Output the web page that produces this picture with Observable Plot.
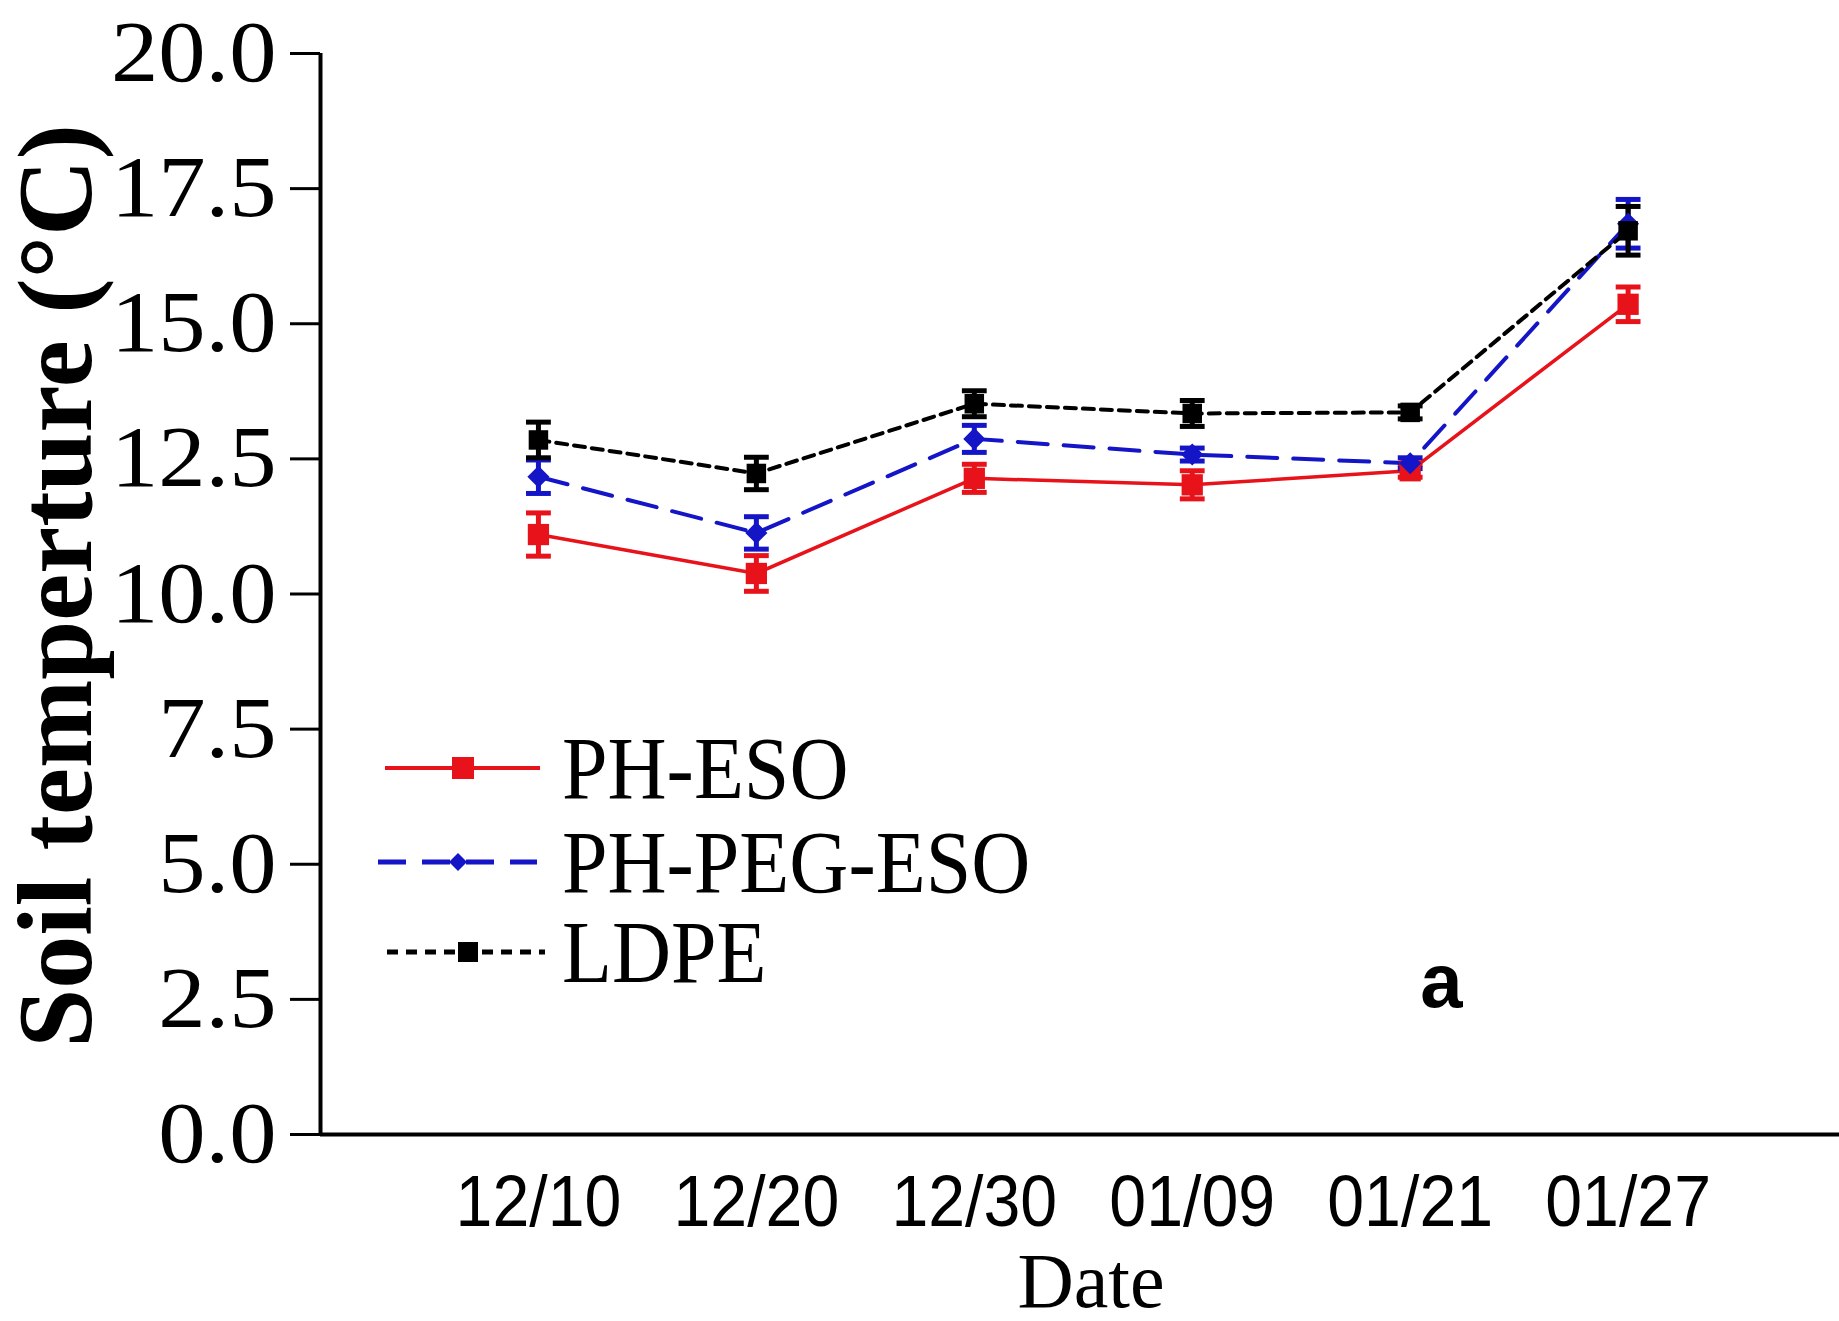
<!DOCTYPE html>
<html>
<head>
<meta charset="utf-8">
<script src="https://cdn.jsdelivr.net/npm/d3@7"></script>
<script src="https://cdn.jsdelivr.net/npm/@observablehq/plot@0.6"></script>
<style>
  html, body { margin: 0; padding: 0; background: #fff; }
  #wrap { position: relative; width: 1839px; height: 1321px; }
  #legend { position: absolute; left: 0; top: 0; }
</style>
</head>
<body>
<div id="wrap"></div>
<script>
// ---- data ----
const dates = ["12/10", "12/20", "12/30", "01/09", "01/21", "01/27"];
const seriesNames = ["PH-ESO", "PH-PEG-ESO", "LDPE"];
const phEso      = [11.10, 10.38, 12.14, 12.02, 12.28, 15.36];
const phEsoErr   = [0.40, 0.33, 0.26, 0.26, 0.12, 0.32];
const phPegEso   = [12.17, 11.13, 12.87, 12.58, 12.42, 16.85];
const phPegErr   = [0.31, 0.30, 0.25, 0.12, 0.10, 0.45];
const ldpe       = [12.85, 12.23, 13.52, 13.34, 13.36, 16.72];
const ldpeErr    = [0.33, 0.30, 0.24, 0.24, 0.12, 0.45];
const yTicks = [0, 2.5, 5, 7.5, 10, 12.5, 15, 17.5, 20];

const colors = {"PH-ESO": "#e8131a", "PH-PEG-ESO": "#1515c8", "LDPE": "#000000"};
const dashes = {"PH-ESO": null, "PH-PEG-ESO": "30,16", "LDPE": "11,7"};

const table = [];
[[phEso, phEsoErr], [phPegEso, phPegErr], [ldpe, ldpeErr]].forEach(([vals, errs], s) => {
  vals.forEach((v, i) => table.push({series: seriesNames[s], i, date: dates[i], v, lo: v - errs[i], hi: v + errs[i]}));
});
const bySeries = name => table.filter(d => d.series === name);

const capSymbol = {
  draw(ctx, size) {
    const w = Math.sqrt(size) / 2;
    ctx.moveTo(-w, 0); ctx.lineTo(w, 0);
  }
};

const marks = [];
// axes
marks.push(Plot.axisY({
  ticks: yTicks, tickFormat: d => d.toFixed(1), tickSize: 30, tickPadding: 14,
  fontSize: 86, fontFamily: "Liberation Serif, Times New Roman, serif", label: null,
  strokeWidth: 3, color: "#000", ariaLabel: "y-axis"
}));
marks.push(Plot.axisX({
  ticks: dates.map((d, i) => i), tickFormat: i => dates[i], tickSize: 0, tickPadding: 40,
  fontSize: 72, fontFamily: "Liberation Sans, Arial, sans-serif", label: null, ariaLabel: "x-axis"
}));
marks.push(Plot.ruleY([0], {strokeWidth: 4}));
marks.push(Plot.ruleX([-1], {strokeWidth: 4}));

// series
for (const name of ["PH-ESO", "PH-PEG-ESO", "LDPE"]) {
  const data = bySeries(name);
  const c = colors[name];
  marks.push(Plot.line(data, {x: "i", y: "v", stroke: c, strokeWidth: name === "PH-ESO" ? 3.5 : 4, strokeDasharray: dashes[name]}));
  marks.push(Plot.ruleX(data, {x: "i", y1: "lo", y2: "hi", stroke: c, strokeWidth: 5}));
  marks.push(Plot.dot(data, {x: "i", y: "lo", symbol: capSymbol, r: 14, stroke: c, strokeWidth: 5}));
  marks.push(Plot.dot(data, {x: "i", y: "hi", symbol: capSymbol, r: 14, stroke: c, strokeWidth: 5}));
}
// markers on top
marks.push(Plot.dot(bySeries("PH-ESO"), {x: "i", y: "v", symbol: "square", r: 12, fill: colors["PH-ESO"]}));
marks.push(Plot.dot(bySeries("PH-PEG-ESO"), {x: "i", y: "v", symbol: "diamond2", r: 9, fill: colors["PH-PEG-ESO"], stroke: colors["PH-PEG-ESO"]}));
marks.push(Plot.dot(bySeries("LDPE"), {x: "i", y: "v", symbol: "square", r: 11, fill: "#000"}));

// titles
marks.push(Plot.text(["Soil temperture (°C)"], {
  frameAnchor: "left", dx: -263, dy: -8, rotate: -90, text: d => d,
  fontSize: 106, fontWeight: "bold", fontFamily: "Liberation Serif, Times New Roman, serif",
  textAnchor: "middle", lineAnchor: "middle", fill: "#000"
}));
marks.push(Plot.text(["Date"], {
  frameAnchor: "bottom", dx: 11, dy: 148, text: d => d,
  fontSize: 78, fontFamily: "Liberation Serif, Times New Roman, serif",
  textAnchor: "middle", lineAnchor: "middle", fill: "#000"
}));
marks.push(Plot.text(["a"], {
  frameAnchor: "bottom-left", dx: 1121, dy: -152, text: d => d,
  fontSize: 76, fontWeight: "bold", fontFamily: "Liberation Sans, Arial, sans-serif",
  textAnchor: "middle", lineAnchor: "middle", fill: "#000"
}));

const chart = Plot.plot({
  width: 1839, height: 1321,
  marginLeft: 320, marginRight: 0, marginTop: 53, marginBottom: 187,
  x: {type: "linear", domain: [-1, 5.97]},
  y: {domain: [0, 20]},
  style: {background: "#fff", color: "#000", overflow: "visible"},
  marks
});
const wrap = document.getElementById("wrap");
wrap.appendChild(chart);

// stretch / condense glyphs to match reference proportions
function adjust(t, factor) {
  const w = t.getComputedTextLength();
  if (w > 0) {
    t.setAttribute("textLength", (w * factor).toFixed(1));
    t.setAttribute("lengthAdjust", "spacingAndGlyphs");
  }
}
chart.querySelectorAll('g[aria-label="y-axis tick label"] text').forEach(t => adjust(t, 1.1));
chart.querySelectorAll('g[aria-label="x-axis tick label"] text').forEach(t => adjust(t, 0.92));

// legend overlay
const ns = "http://www.w3.org/2000/svg";
const leg = document.createElementNS(ns, "svg");
leg.setAttribute("id", "legend");
leg.setAttribute("width", 1839);
leg.setAttribute("height", 1321);
wrap.appendChild(leg);
const rows = [
  {name: "PH-ESO", y: 768, x1: 385, x2: 540, mx: 463, sym: "square", s: 22},
  {name: "PH-PEG-ESO", y: 862, x1: 378, x2: 537, mx: 458, sym: "diamond", s: 18},
  {name: "LDPE", y: 952, x1: 387, x2: 545, mx: 468, sym: "square", s: 20}
];
for (const r of rows) {
  const c = colors[r.name];
  const ln = document.createElementNS(ns, "line");
  ln.setAttribute("x1", r.x1); ln.setAttribute("x2", r.x2);
  ln.setAttribute("y1", r.y); ln.setAttribute("y2", r.y);
  ln.setAttribute("stroke", c);
  ln.setAttribute("stroke-width", r.name === "PH-ESO" ? 4 : 5);
  if (r.name === "PH-PEG-ESO") ln.setAttribute("stroke-dasharray", "28,16");
  if (r.name === "LDPE") ln.setAttribute("stroke-dasharray", "11,8");
  leg.appendChild(ln);
  let m;
  if (r.sym === "square") {
    m = document.createElementNS(ns, "rect");
    m.setAttribute("x", r.mx - r.s / 2); m.setAttribute("y", r.y - r.s / 2);
    m.setAttribute("width", r.s); m.setAttribute("height", r.s);
  } else {
    m = document.createElementNS(ns, "path");
    const h = r.s / 2;
    m.setAttribute("d", `M${r.mx},${r.y - h}L${r.mx + h},${r.y}L${r.mx},${r.y + h}L${r.mx - h},${r.y}Z`);
  }
  m.setAttribute("fill", c);
  leg.appendChild(m);
  const t = document.createElementNS(ns, "text");
  t.setAttribute("x", 562); t.setAttribute("y", r.y);
  t.setAttribute("dy", "0.34em");
  t.setAttribute("font-family", "Liberation Serif, Times New Roman, serif");
  t.setAttribute("font-size", 88);
  t.setAttribute("fill", "#000");
  t.textContent = r.name;
  leg.appendChild(t);
  adjust(t, 0.93);
}
</script>
</body>
</html>
